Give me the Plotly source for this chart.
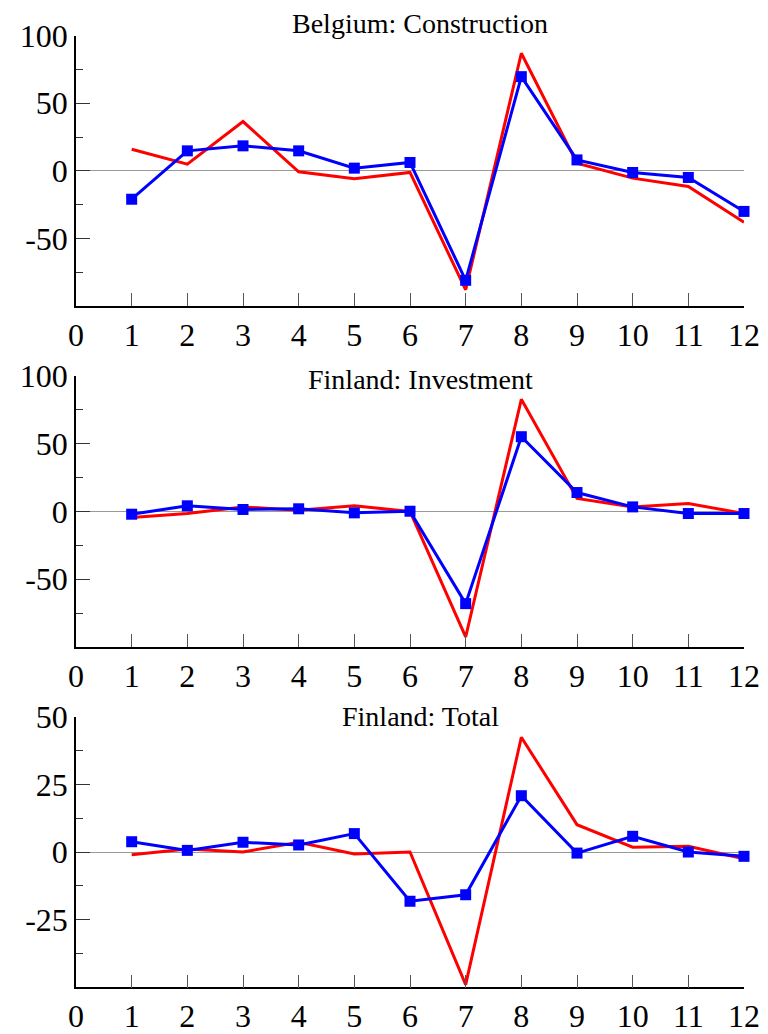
import plotly.graph_objects as go

# Horizon (periods) on the x axis
periods = [1, 2, 3, 4, 5, 6, 7, 8, 9, 10, 11, 12]
x_tick_vals = [0, 1, 2, 3, 4, 5, 6, 7, 8, 9, 10, 11, 12]
x_tick_text = ["0", "1", "2", "3", "4", "5", "6", "7", "8", "9", "10", "11", "12"]

# Belgium: Construction
be_con_red = [16, 5, 36.5, -0.7, -5.9, -1.2, -88, 87, 5.7, -5.4, -11.6, -38]
be_con_blue = [-21, 14.8, 18.5, 14.8, 2, 6.2, -81, 69.7, 8.1, -1.2, -4.9, -30]

# Finland: Investment
fi_inv_red = [-4.4, -1.5, 3.4, 1, 4.2, 0, -92.6, 82.8, 9.6, 3.4, 5.9, -1.5]
fi_inv_blue = [-2, 4.2, 1.5, 2, -1, 0.2, -68, 55.2, 14, 3.4, -1.5, -1.5]

# Finland: Total
fi_tot_red = [-1, 1.1, 0, 3.6, -0.7, 0, -49, 42.4, 10.1, 1.8, 2.1, -2.5]
fi_tot_blue = [3.8, 0.6, 3.6, 2.6, 6.8, -18.2, -15.8, 20.8, -0.4, 5.8, 0, -1.6]

panel_titles = ["Belgium: Construction", "Finland: Investment", "Finland: Total"]

# y ticks per panel
y_ticks_100 = [-50, 0, 50, 100]
y_text_100 = ["-50", "0", "50", "100"]
y_ticks_50 = [-25, 0, 25, 50]
y_text_50 = ["-25", "0", "25", "50"]

W, H = 768, 1034
FONT = "Liberation Serif, Times New Roman, serif"

panels = [
    dict(red=be_con_red, blue=be_con_blue, title=panel_titles[0],
         rng=[-100, 100], tv=y_ticks_100, tt=y_text_100, minor=25,
         top=35.7, bottom=306, title_y=24),
    dict(red=fi_inv_red, blue=fi_inv_blue, title=panel_titles[1],
         rng=[-100, 100], tv=y_ticks_100, tt=y_text_100, minor=25,
         top=376, bottom=647, title_y=379),
    dict(red=fi_tot_red, blue=fi_tot_blue, title=panel_titles[2],
         rng=[-50, 50], tv=y_ticks_50, tt=y_text_50, minor=12.5,
         top=716.7, bottom=987.3, title_y=716),
]

x_left, x_right = 76, 744

fig = go.Figure()
layout = dict(
    template="none",
    width=W, height=H,
    margin=dict(l=0, r=0, t=0, b=0, pad=0),
    paper_bgcolor="white", plot_bgcolor="white",
    showlegend=False,
    font=dict(family=FONT, color="black"),
    annotations=[],
)

for i, p in enumerate(panels, start=1):
    xa = "x" if i == 1 else f"x{i}"
    ya = "y" if i == 1 else f"y{i}"
    fig.add_trace(go.Scatter(
        x=periods, y=p["red"], xaxis=xa, yaxis=ya, mode="lines",
        name="series_1", line=dict(color="#ff0000", width=3),
        cliponaxis=False,
    ))
    fig.add_trace(go.Scatter(
        x=periods, y=p["blue"], xaxis=xa, yaxis=ya, mode="lines+markers",
        name="series_2", line=dict(color="#0000ff", width=3),
        marker=dict(symbol="square", size=11, color="#0000ff",
                    line=dict(width=0)),
        cliponaxis=False,
    ))
    dom_y = [1 - p["bottom"] / H, 1 - p["top"] / H]
    xkey = "xaxis" if i == 1 else f"xaxis{i}"
    ykey = "yaxis" if i == 1 else f"yaxis{i}"
    layout[xkey] = dict(
        domain=[x_left / W, x_right / W], anchor=ya, range=[0, 12],
        automargin=False,
        tickmode="array", tickvals=x_tick_vals, ticktext=x_tick_text,
        ticks="inside", ticklen=13, tickwidth=1.3, tickcolor="#555555",
        showline=True, linecolor="black", linewidth=1.5,
        showgrid=False, zeroline=False,
        tickfont=dict(family=FONT, size=32, color="black"),
        ticklabelstandoff=0,
    )
    layout[ykey] = dict(
        domain=dom_y, anchor=xa, range=p["rng"],
        automargin=False,
        tickmode="array", tickvals=p["tv"], ticktext=p["tt"],
        ticks="inside", ticklen=14, tickwidth=1.3, tickcolor="#333333",
        minor=dict(dtick=p["minor"], tick0=0, ticks="inside", ticklen=7,
                   tickwidth=1.3, tickcolor="#333333", showgrid=False),
        showline=True, linecolor="black", linewidth=1.5,
        showgrid=False,
        zeroline=True, zerolinecolor="#999999", zerolinewidth=1.3,
        tickfont=dict(family=FONT, size=32, color="black"),
    )
    layout["annotations"].append(dict(
        text=p["title"], xref="paper", yref="paper",
        x=420 / W, y=1 - p["title_y"] / H, xanchor="center", yanchor="middle",
        showarrow=False, font=dict(family=FONT, size=28, color="black"),
    ))

fig.update_layout(**layout)
fig.write_html("out.html")
